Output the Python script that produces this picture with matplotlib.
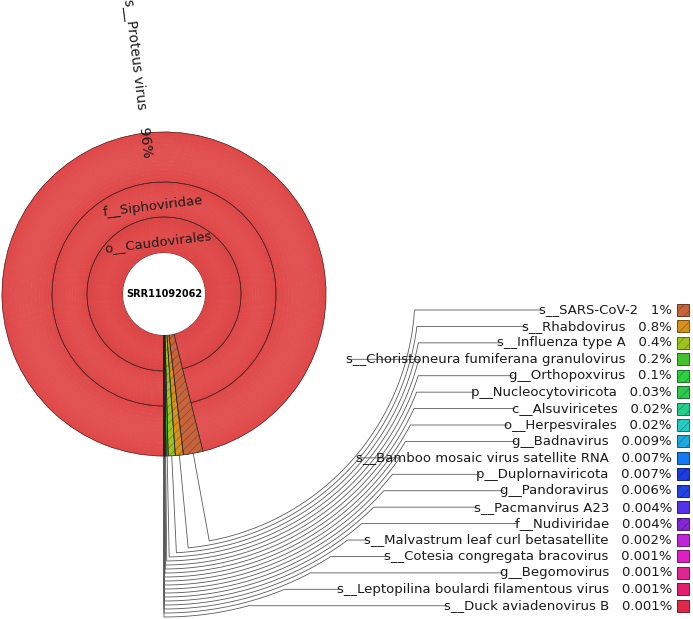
import numpy as np
import matplotlib
matplotlib.use("Agg")
import matplotlib.pyplot as plt
from matplotlib.patches import Wedge, Rectangle, Circle
import matplotlib.colors as mcolors

plt.rcParams['font.family'] = ['DejaVu Sans']
plt.rcParams['hatch.linewidth'] = 0.5

# ---------------- data ----------------
sample_name = "SRR11092062"
main_lineage = ["o__Caudovirales", "f__Siphoviridae", "s__Proteus virus"]
main_value = 96.2
main_pct_label = "96%"

minor_names = [
    "s__SARS-CoV-2", "s__Rhabdovirus", "s__Influenza type A",
    "s__Choristoneura fumiferana granulovirus", "g__Orthopoxvirus",
    "p__Nucleocytoviricota", "c__Alsuviricetes", "o__Herpesvirales",
    "g__Badnavirus", "s__Bamboo mosaic virus satellite RNA",
    "p__Duplornaviricota", "g__Pandoravirus", "s__Pacmanvirus A23",
    "f__Nudiviridae", "s__Malvastrum leaf curl betasatellite",
    "s__Cotesia congregata bracovirus", "g__Begomovirus",
    "s__Leptopilina boulardi filamentous virus", "s__Duck aviadenovirus B",
]
minor_values = [1.95, 0.8, 0.7, 0.2, 0.1, 0.03, 0.02, 0.02, 0.009, 0.007,
                0.007, 0.006, 0.004, 0.004, 0.002, 0.001, 0.001, 0.001, 0.001]
minor_pct_labels = ["1%", "0.8%", "0.4%", "0.2%", "0.1%", "0.03%", "0.02%",
                    "0.02%", "0.009%", "0.007%", "0.007%", "0.006%", "0.004%",
                    "0.004%", "0.002%", "0.001%", "0.001%", "0.001%", "0.001%"]
minor_colors = ["#c8643c", "#d8901c", "#9cc41c", "#44c02c", "#2cd040",
                "#2cc850", "#22d08c", "#22ccc4", "#1ea8e0", "#1478f0",
                "#1a3ce0", "#2244e0", "#5234e6", "#8424d6", "#c024d8",
                "#e020c4", "#e0248e", "#e0206c", "#e0284a"]
minor_hatched = [True, True, True, False, True, True, True, True, True, False,
                 True, True, False, True, False, False, False, False, False]

# ---------------- layout ----------------
W, H = 693, 619
cx, cy = 164, 294
ring_edges = [41, 77, 112, 162]
label_x_right = 672
row_y0, row_dy = 310, 16.43
lead_r0, lead_dr = 251, 4.0
fs = 9.5
text_color = "#1a1a1a"

fig = plt.figure(figsize=(W / 100, H / 100), dpi=100)
ax = fig.add_axes([0, 0, 1, 1])
ax.set_xlim(0, W)
ax.set_ylim(H, 0)
ax.axis('off')

total = main_value + sum(minor_values)
deg = 360.0 / total

# angles (screen: y down, angle increases clockwise on screen)
start = 90.0
minor_theta = [None] * len(minor_values)
for i in reversed(range(len(minor_values))):
    t2 = start
    t1 = start - minor_values[i] * deg
    minor_theta[i] = (t1, t2)
    start = t1
main_t2 = start
main_t1 = 90.0 - 360.0
main_mid = 0.5 * (main_t1 + main_t2)


def shade(c, f):
    r, g, b = mcolors.to_rgb(c)
    if f >= 0:
        return (r + (1 - r) * f, g + (1 - g) * f, b + (1 - b) * f)
    return (r * (1 + f), g * (1 + f), b * (1 + f))


# main (Proteus) rings with a gentle radial gradient
base_red = "#df4848"
for k in range(3):
    r_in, r_out = ring_edges[k], ring_edges[k + 1]
    n = 12
    for j in range(n):
        a = r_in + (r_out - r_in) * j / n
        b = r_in + (r_out - r_in) * (j + 1) / n
        t = (j + 0.5) / n
        f = -0.04 + 0.02 * k + 0.06 * np.sin(np.pi * t)
        ax.add_patch(Wedge((cx, cy), b + 0.3, main_t1, main_t2, width=b - a + 0.6,
                           facecolor=shade(base_red, f), edgecolor='none', zorder=1))
    ax.add_patch(Wedge((cx, cy), r_out, main_t1, main_t2, width=r_out - r_in,
                       facecolor='none', edgecolor='#4a2222', linewidth=0.45, zorder=2))

# minor wedges
for i, (t1, t2) in enumerate(minor_theta):
    col = minor_colors[i]
    ax.add_patch(Wedge((cx, cy), ring_edges[-1], t1, t2,
                       width=ring_edges[-1] - ring_edges[0],
                       facecolor=col, edgecolor=shade(col, -0.3) if minor_hatched[i] else 'none',
                       hatch='////' if minor_hatched[i] else None, linewidth=0, zorder=2))
    ax.add_patch(Wedge((cx, cy), ring_edges[-1], t1, t2,
                       width=ring_edges[-1] - ring_edges[0],
                       facecolor='none', edgecolor='#222222', linewidth=0.5, zorder=3))

# centre hole
ax.add_patch(Circle((cx, cy), ring_edges[0], facecolor='white', edgecolor='none', zorder=4))
ax.text(cx, cy, sample_name, ha='center', va='center', fontsize=7,
        fontweight='bold', color='black', zorder=5)

# ring labels (straight, rotated to the tangent at the wedge centre)
phi = np.radians(main_mid)
tan_rot = np.degrees(np.arctan2(-np.cos(phi), -np.sin(phi)))
for name, r_lab in [(main_lineage[0], 52), (main_lineage[1], 88)]:
    ax.text(cx + r_lab * np.cos(phi), cy + r_lab * np.sin(phi), name,
            ha='center', va='center', rotation=tan_rot, rotation_mode='anchor',
            fontsize=fs, color=text_color, zorder=5)

# radial species label
r_lab = 137
rad_rot = np.degrees(np.arctan2(np.sin(phi), -np.cos(phi)))
ax.text(cx + r_lab * np.cos(phi), cy + r_lab * np.sin(phi),
        main_lineage[2] + "    " + main_pct_label, ha='right', va='center',
        rotation=rad_rot, rotation_mode='anchor', fontsize=10, color=text_color, zorder=5)

# legend labels
texts = []
for i, name in enumerate(minor_names):
    y = row_y0 + row_dy * i
    t = ax.text(label_x_right, y, name + "   " + minor_pct_labels[i], ha='right',
                va='center', fontsize=fs, color=text_color, zorder=5)
    texts.append(t)
    col = minor_colors[i]
    ax.add_patch(Rectangle((677, y - 6), 12, 12, facecolor=col,
                           edgecolor=shade(col, -0.3) if minor_hatched[i] else 'none',
                           hatch='///' if minor_hatched[i] else None, linewidth=0, zorder=5))
    ax.add_patch(Rectangle((677, y - 6), 12, 12, facecolor='none',
                           edgecolor=shade(col, -0.45), linewidth=0.7, zorder=6))

fig.canvas.draw()
renderer = fig.canvas.get_renderer()
inv = ax.transData.inverted()

# leader lines
for i, t in enumerate(texts):
    bb = t.get_window_extent(renderer)
    x_end = inv.transform((bb.x0, bb.y0))[0] + 3
    y = row_y0 + row_dy * i
    r_i = lead_r0 + lead_dr * i
    t1, t2 = minor_theta[i]
    th = np.radians(0.5 * (t1 + t2))
    ph = np.arcsin(np.clip((y - cy) / r_i, -1, 1))
    xs = [cx + ring_edges[-1] * np.cos(th)]
    ys = [cy + ring_edges[-1] * np.sin(th)]
    arc = np.linspace(th, ph, 80)
    xs += list(cx + r_i * np.cos(arc))
    ys += list(cy + r_i * np.sin(arc))
    xs.append(x_end)
    ys.append(y)
    ax.plot(xs, ys, color='#5a5a5a', linewidth=0.6, zorder=1.5)

fig.savefig("out.png", dpi=100)
